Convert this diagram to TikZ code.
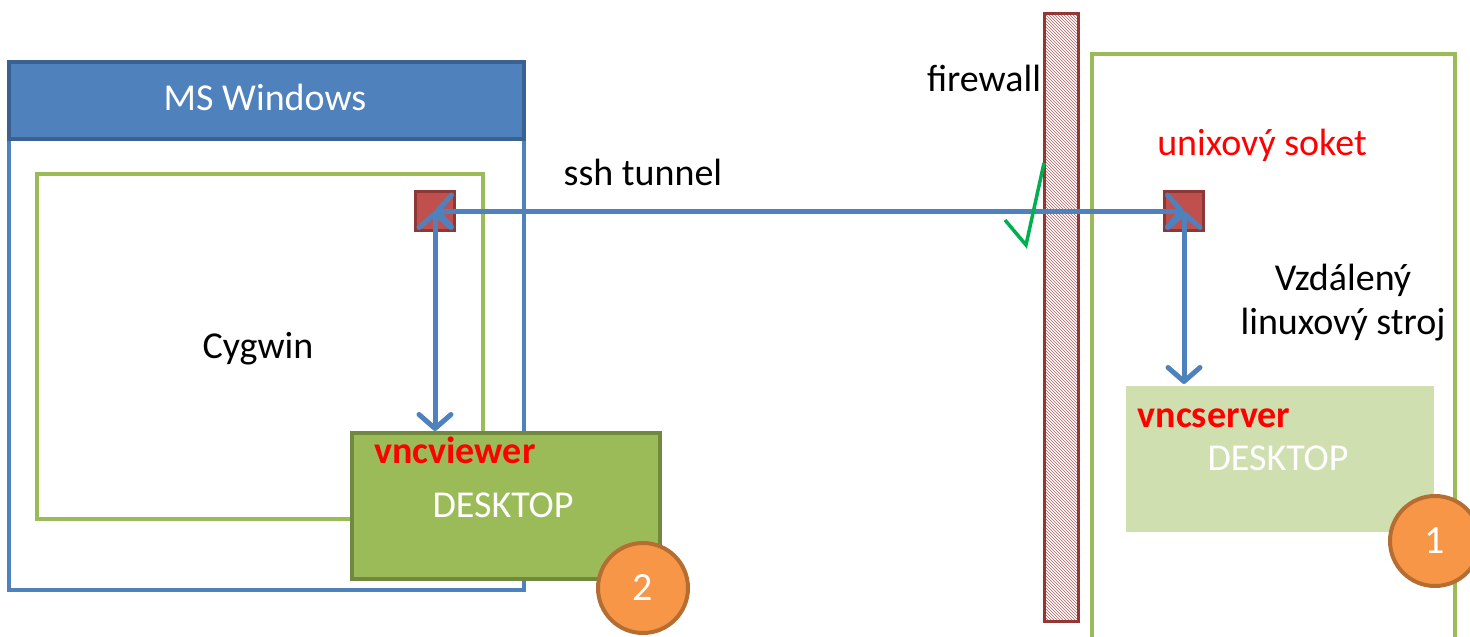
\documentclass[tikz,border=0pt]{standalone}
\usepackage{fontspec}
\setmainfont{Carlito}
\usetikzlibrary{arrows.meta,patterns}
\definecolor{winblue}{HTML}{4F81BD}
\definecolor{windark}{HTML}{3A6190}
\definecolor{cyggreen}{HTML}{9BBB59}
\definecolor{viewdark}{HTML}{71893F}
\definecolor{servgreen}{HTML}{CFDFAF}
\definecolor{sockred}{HTML}{C0504D}
\definecolor{sockdark}{HTML}{8C3836}
\definecolor{numorange}{HTML}{F79646}
\definecolor{numdark}{HTML}{B66D31}
\definecolor{fwred}{HTML}{943634}
\definecolor{checkgreen}{HTML}{00B050}

\begin{document}
\begin{tikzpicture}[x=1pt,y=-1pt,
  box/.style={rectangle,anchor=north west,inner sep=0pt,line width=3.5pt},
  sock/.style={rectangle,fill=sockred,draw=sockdark,line width=3pt,minimum size=39pt,inner sep=0pt},
  num/.style={circle,fill=numorange,draw=numdark,line width=4pt,minimum size=90pt,inner sep=0pt,text=white,font=\fontsize{40}{48}\selectfont},
  txt/.style={inner sep=0pt,anchor=base,font=\fontsize{38}{44}\selectfont},
  prog/.style={txt,text=red,font=\fontsize{38}{44}\selectfont\bfseries},
  link/.style={draw=winblue,line width=5pt,>={Straight Barb[length=14pt,width=32pt,line width=5pt,round]},<->}]
\useasboundingbox (0,0) rectangle (1470,637);
\clip (0,0) rectangle (1470,637);
% MS Windows side
\node[box,draw=winblue,minimum width=515pt,minimum height=528pt] (win) at (7,60) {};
\node[box,draw=windark,fill=winblue,minimum width=515pt,minimum height=77pt] (winhead) at (7,60) {};
\node[box,draw=cyggreen,minimum width=446pt,minimum height=345pt] (cyg) at (35,172) {};
\node[sock] (sockL) at (435,211) {};
\node[box,draw=viewdark,fill=cyggreen,minimum width=308pt,minimum height=146pt] (viewer) at (350,431) {};
\node[num] (two) at (643,588) {2};
% remote side
\node[box,draw=cyggreen,minimum width=363pt,minimum height=620pt] (linux) at (1090,52) {};
\node[box,fill=servgreen,minimum width=308pt,minimum height=146pt] (server) at (1124,384) {};
\node[sock] (sockR) at (1184,211) {};
\node[num] (one) at (1435,541) {1};
% firewall
\node[box,draw=fwred,line width=3pt,pattern=north west lines,pattern color=fwred!80,minimum width=34pt,minimum height=608pt] (fw) at (1043,12) {};
\path
(265,110) node[txt,text=white] (winlbl) {MS Windows}
(258,358) node[txt] (cyglbl) {Cygwin}
(643,185) node[txt] (sshlbl) {ssh tunnel}
(984,91) node[txt] (fwlbl) {firewall}
(1262,155) node[txt,text=red] (socklbl) {unixový soket}
(1343,334) node[txt,align=center] (linuxlbl) {Vzdálený\\linuxový stroj}
(455,463) node[prog] (viewerlbl) {vncviewer}
(503,517) node[txt,text=white] (viewdesk) {DESKTOP}
(1214,427) node[prog] (serverlbl) {vncserver}
(1278,470) node[txt,text=white] (servdesk) {DESKTOP}
;
\begin{scope}[every path/.style=link]
\path (sockL.center) -- (sockR.center);
\path (sockL.center) -- (sockL.center |- viewer.north);
\path (sockR.center) -- (sockR.center |- server.north);
\end{scope}
\draw[checkgreen,line width=3.5pt] (1005,220) -- (1026,245) -- (1044,163);
\end{tikzpicture}
\end{document}
